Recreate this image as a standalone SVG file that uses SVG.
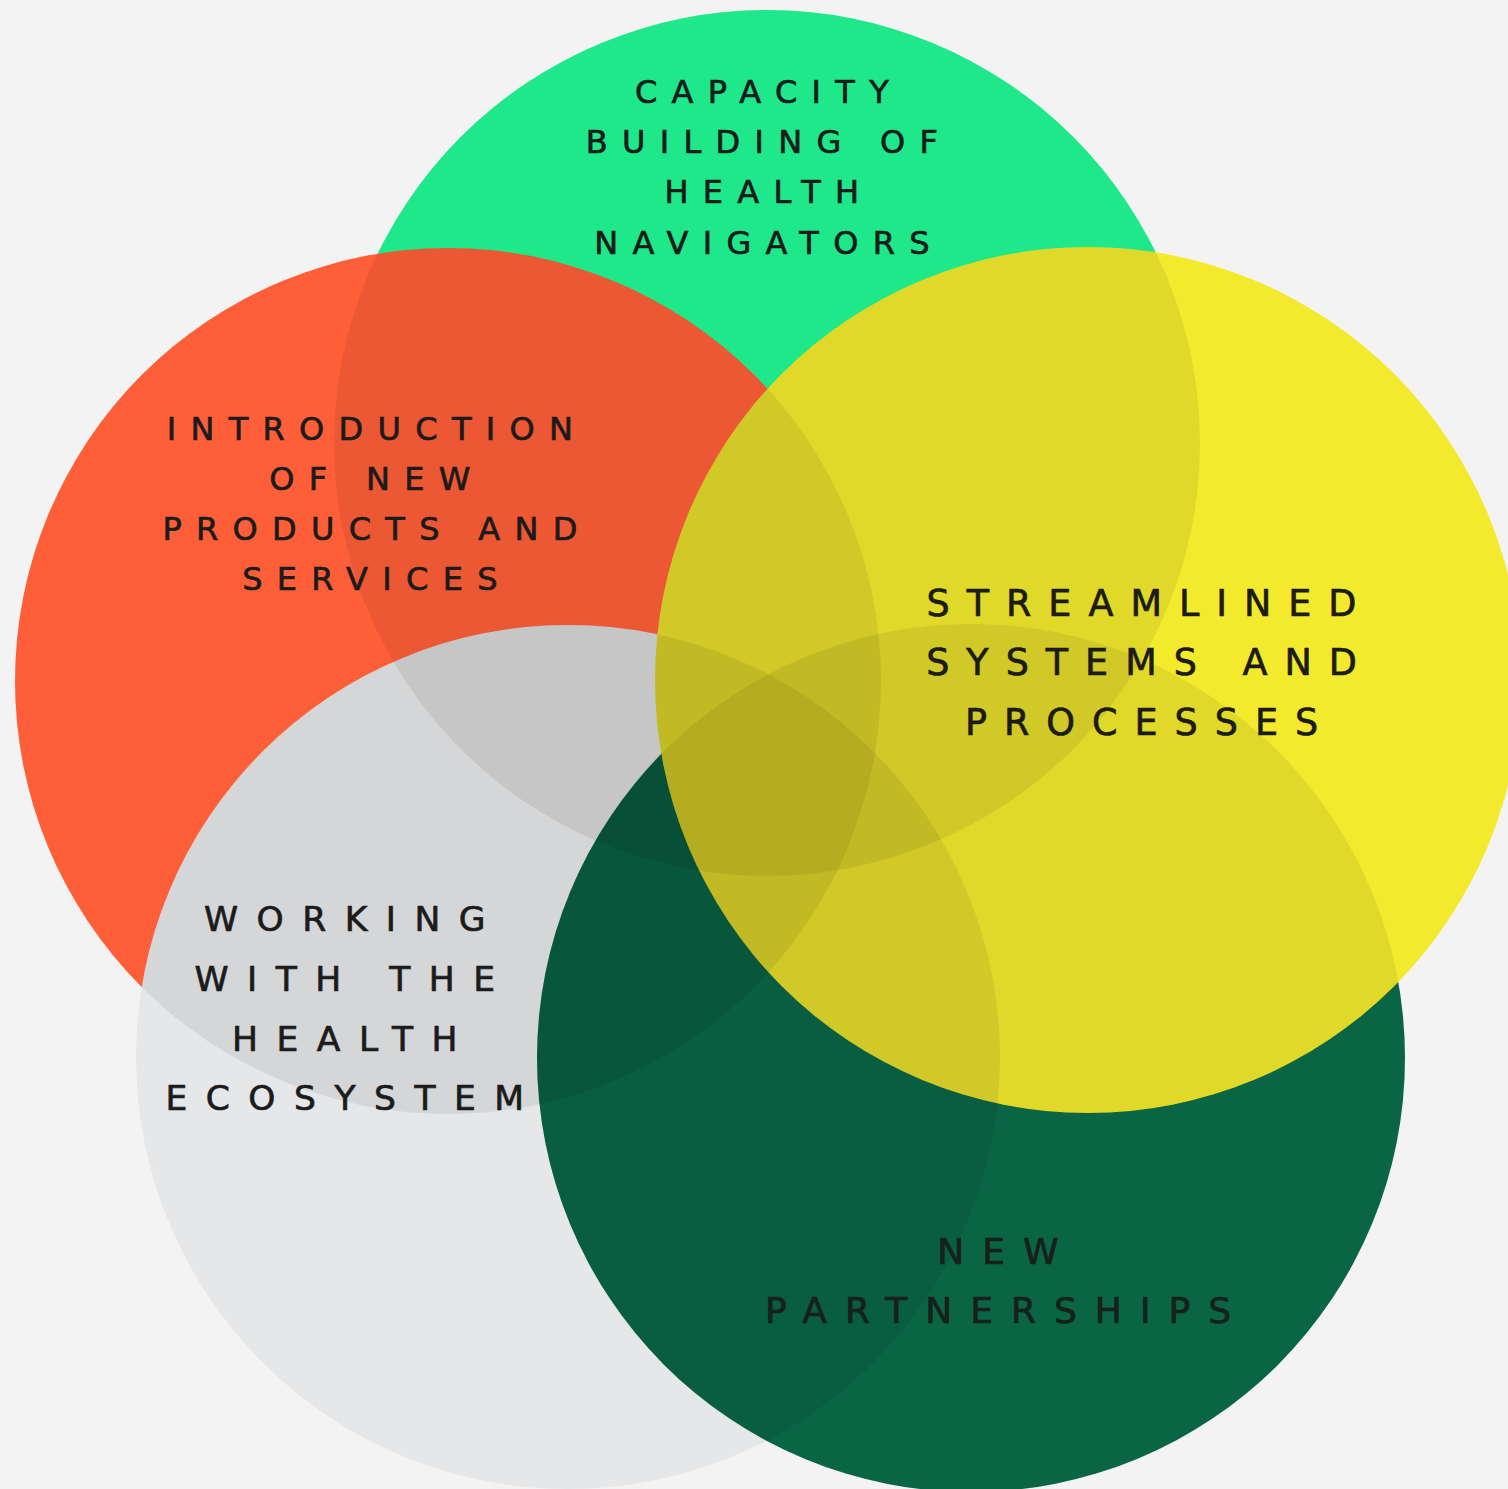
<svg xmlns="http://www.w3.org/2000/svg" width="1508" height="1489" viewBox="0 0 1508 1489">
  <defs>
    <style>
      .lbl { font-family: "DejaVu Sans", "Liberation Sans", sans-serif; fill: #1b1b1b; stroke: #1b1b1b; stroke-width: 0.7px; text-anchor: middle; }
      .s32 { font-size: 32px; letter-spacing: 14.3px; }
      .s36 { font-size: 36.5px; letter-spacing: 17px; }
      .s34 { font-size: 34.5px; letter-spacing: 18.5px; }
      .s36b { font-size: 36px; letter-spacing: 18px; fill: #17201b; stroke: #17201b; }
      .shade { fill: #000; fill-opacity: 0.07; }
    </style>
    <!-- circle shapes, reused for fills, shading and clipping -->
    <circle id="cGreen" cx="767" cy="443" r="433"/>
    <circle id="cRed" cx="448" cy="681" r="433"/>
    <circle id="cGray" cx="568" cy="1057" r="432"/>
    <circle id="cDark" cx="971" cy="1058" r="434"/>
    <circle id="cYellow" cx="1088" cy="680" r="433"/>
    <!-- one clip per lower circle: each overlap darkens the upper fill once -->
    <clipPath id="inGreen"><use href="#cGreen"/></clipPath>
    <clipPath id="inRed"><use href="#cRed"/></clipPath>
    <clipPath id="inGray"><use href="#cGray"/></clipPath>
    <clipPath id="inDark"><use href="#cDark"/></clipPath>
  </defs>

  <rect width="1508" height="1489" fill="#f3f3f3"/>

  <g id="capacity-building">
    <use href="#cGreen" fill="#1ee88a"/>
    <text class="lbl s32" x="769" y="103">CAPACITY</text>
    <text class="lbl s32" x="769" y="153">BUILDING OF</text>
    <text class="lbl s32" x="769" y="203">HEALTH</text>
    <text class="lbl s32" x="769" y="254">NAVIGATORS</text>
  </g>

  <g id="new-products">
    <use href="#cRed" fill="#ff5f38"/>
    <use href="#cRed" class="shade" clip-path="url(#inGreen)"/>
    <text class="lbl s32" x="377" y="440">INTRODUCTION</text>
    <text class="lbl s32" x="377" y="490">OF NEW</text>
    <text class="lbl s32" x="377" y="540">PRODUCTS AND</text>
    <text class="lbl s32" x="377" y="590">SERVICES</text>
  </g>

  <g id="health-ecosystem">
    <use href="#cGray" fill="#e6e7e8"/>
    <use href="#cGray" class="shade" clip-path="url(#inGreen)"/>
    <use href="#cGray" class="shade" clip-path="url(#inRed)"/>
    <text class="lbl s34" x="354" y="931">WORKING</text>
    <text class="lbl s34" x="354" y="991">WITH THE</text>
    <text class="lbl s34" x="354" y="1051">HEALTH</text>
    <text class="lbl s34" x="354" y="1110">ECOSYSTEM</text>
  </g>

  <g id="new-partnerships">
    <use href="#cDark" fill="#0a6545"/>
    <use href="#cDark" class="shade" clip-path="url(#inGreen)"/>
    <use href="#cDark" class="shade" clip-path="url(#inRed)"/>
    <use href="#cDark" class="shade" clip-path="url(#inGray)"/>
    <text class="lbl s36b" x="1007" y="1264">NEW</text>
    <text class="lbl s36b" x="1007" y="1323">PARTNERSHIPS</text>
  </g>

  <g id="streamlined-systems">
    <use href="#cYellow" fill="#f3ea2e"/>
    <use href="#cYellow" class="shade" clip-path="url(#inGreen)"/>
    <use href="#cYellow" class="shade" clip-path="url(#inRed)"/>
    <use href="#cYellow" class="shade" clip-path="url(#inGray)"/>
    <use href="#cYellow" class="shade" clip-path="url(#inDark)"/>
    <text class="lbl s36" x="1150" y="616">STREAMLINED</text>
    <text class="lbl s36" x="1150" y="675">SYSTEMS AND</text>
    <text class="lbl s36" x="1150" y="735">PROCESSES</text>
  </g>

  <g id="connectors"/>
</svg>
